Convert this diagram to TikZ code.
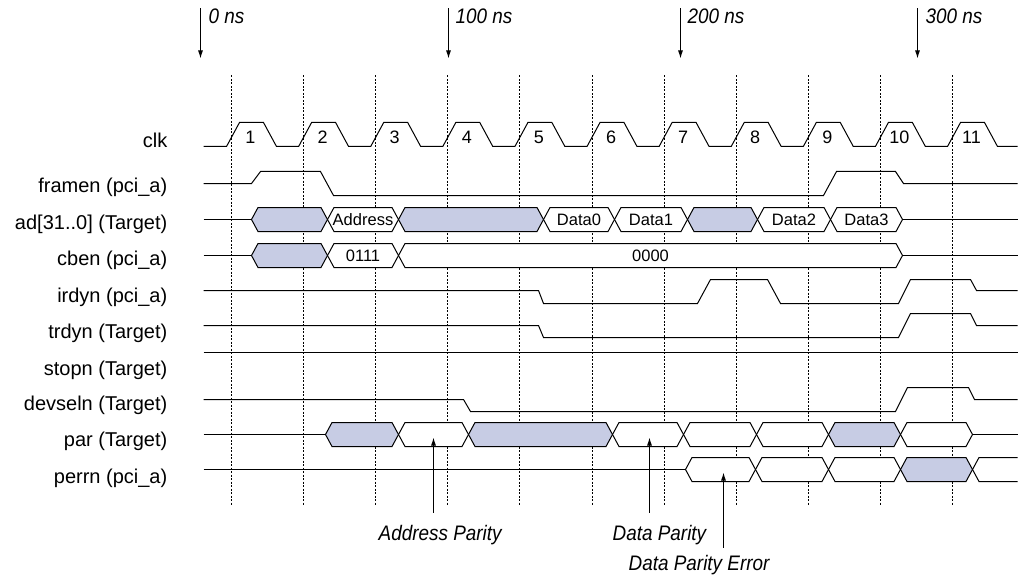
\documentclass[tikz,border=0pt]{standalone}
\usepackage{fontspec}
\setmainfont{Liberation Sans}
\newfontfamily\labfont{Liberation Sans}
\newfontfamily\annfont[FakeStretch=0.9]{Liberation Sans}
\usetikzlibrary{arrows.meta}
\definecolor{busfill}{RGB}{199,204,228}
\newcommand\bushex[4]{%
  \path[#4] (#1,#3) -- ({#1+6.5},{#3-12}) -- ({#2-6.5},{#3-12}) -- (#2,#3)
    -- ({#2-6.5},{#3+12}) -- ({#1+6.5},{#3+12}) -- cycle;}
\tikzset{
  wave/.style={draw=black,line width=1pt,line join=miter},
  busw/.style={draw=black,line width=1pt,fill=white},
  busf/.style={draw=black,line width=1pt,fill=busfill},
  gridline/.style={draw=black,line width=1pt,dash pattern=on 2pt off 1.5pt},
  siglabel/.style={anchor=base east,inner sep=0pt,font=\labfont\fontsize{20}{22}\selectfont},
  bustext/.style={inner sep=0pt,font=\fontsize{16.5}{18}\selectfont},
  clktext/.style={inner sep=0pt,font=\fontsize{18}{20}\selectfont},
  anntext/.style={anchor=base west,inner sep=0pt,font=\annfont\itshape\fontsize{21}{23}\selectfont},
  pointer/.style={draw=black,line width=1pt,-{Latex[length=8pt,width=5pt]}}
}
\begin{document}
\begin{tikzpicture}[x=1pt,y=-1pt]
\useasboundingbox (0,0) rectangle (1023,575);
\begin{scope}[yshift=-0.5pt,xshift=0.5pt]
% grid lines
\foreach \k in {0,...,10}
  \draw[gridline] ({231+72.1*\k},75) -- ({231+72.1*\k},505);
% time markers
\foreach \xa/\xt/\t/\nm in {200/208/0 ns/t0,448/455/100 ns/t1,680/687/200 ns/t2,917/925/300 ns/t3}{
  \node[anntext] (\nm) at (\xt,23) {\t};
  \coordinate (\nm s) at (\xa,8);
  \coordinate (\nm e) at (\xa,58);
  \draw[pointer] (\nm s) -- (\nm e);
}
% signal labels
\node[siglabel] (lclk) at (167,147) {clk};
\node[siglabel] (lframen) at (167,192) {framen (pci\_a)};
\node[siglabel] (lad) at (167,229) {ad[31..0] (Target)};
\node[siglabel] (lcben) at (167,265) {cben (pci\_a)};
\node[siglabel] (lirdyn) at (167,302) {irdyn (pci\_a)};
\node[siglabel] (ltrdyn) at (167,338) {trdyn (Target)};
\node[siglabel] (lstopn) at (167,375) {stopn (Target)};
\node[siglabel] (ldevseln) at (167,410) {devseln (Target)};
\node[siglabel] (lpar) at (167,446) {par (Target)};
\node[siglabel] (lperrn) at (167,483) {perrn (pci\_a)};
% clock
\draw[wave] (203,146) \foreach \k in {0,...,10}{
   -- ({231+72.1*\k-5},146) -- ({231+72.1*\k+8},122) -- ({231+72.1*\k+32},122) -- ({231+72.1*\k+45},146)}
   -- (1017,146);
\foreach \k [evaluate=\k as \n using int(\k+1)] in {0,...,10}
  \node[clktext] (c\n) at ({231+72.1*\k+19},137) {\n};
% framen
\draw[wave] (203,183) -- (251,183) -- (260,171) -- (320,171) -- (333,195) -- (823,195)
  -- (836,171) -- (895,171) -- (903,183) -- (1017,183);
% ad
\draw[wave] (203,219) -- (251,219);
\bushex{251}{327}{219}{busf}
\bushex{327}{398}{219}{busw}
\bushex{398}{543}{219}{busf}
\bushex{543}{614}{219}{busw}
\bushex{614}{687}{219}{busw}
\bushex{687}{757}{219}{busf}
\bushex{757}{830}{219}{busw}
\bushex{830}{902}{219}{busw}
\draw[wave] (902,219) -- (1017,219);
\node[bustext] (tAddr) at (362.5,219) {Address};
\node[bustext] (tD0) at (578.5,219) {Data0};
\node[bustext] (tD1) at (650.5,219) {Data1};
\node[bustext] (tD2) at (793.5,219) {Data2};
\node[bustext] (tD3) at (866,219) {Data3};
% cben
\draw[wave] (203,255) -- (251,255);
\bushex{251}{327}{255}{busf}
\bushex{327}{398}{255}{busw}
\bushex{398}{902}{255}{busw}
\draw[wave] (902,255) -- (1017,255);
\node[bustext] (t0111) at (362.5,255) {0111};
\node[bustext] (t0000) at (650,255) {0000};
% irdyn
\draw[wave] (203,290) -- (538,290) -- (543,303) -- (697,303) -- (710,279) -- (767,279)
  -- (780,303) -- (898,303) -- (910,279) -- (970,279) -- (976,290) -- (1017,290);
% trdyn
\draw[wave] (203,325) -- (538,325) -- (543,337) -- (898,337) -- (910,313) -- (970,313)
  -- (976,325) -- (1017,325);
% stopn
\draw[wave] (203,352) -- (1017,352);
% devseln
\draw[wave] (203,399) -- (463,399) -- (470,411) -- (895,411) -- (907,387) -- (968,387)
  -- (974,399) -- (1017,399);
% par
\draw[wave] (203,434) -- (325,434);
\bushex{325}{398}{434}{busf}
\bushex{398}{468}{434}{busw}
\bushex{468}{612}{434}{busf}
\bushex{612}{683}{434}{busw}
\bushex{683}{756}{434}{busw}
\bushex{756}{828}{434}{busw}
\bushex{828}{900}{434}{busf}
\bushex{900}{972}{434}{busw}
\draw[wave] (972,434) -- (1017,434);
% perrn
\draw[wave] (203,469) -- (685,469);
\bushex{685}{755}{469}{busw}
\bushex{755}{828}{469}{busw}
\bushex{828}{900}{469}{busw}
\bushex{900}{972}{469}{busf}
\draw[wave] (1017,457) -- (978.5,457) -- (972,469) -- (978.5,481) -- (1017,481);
% annotations
\node[anntext] (aAP) at (378,540) {Address Parity};
\node[anntext] (aDP) at (612,540) {Data Parity};
\node[anntext] (aDPE) at (628,570) {Data Parity Error};
\coordinate (pAP) at (433,512);
\coordinate (pDP) at (649,512);
\coordinate (pDPE) at (723,547);
\draw[pointer] (pAP) -- (433,437);
\draw[pointer] (pDP) -- (649,437);
\draw[pointer] (pDPE) -- (723,472);
\end{scope}
\end{tikzpicture}
\end{document}
